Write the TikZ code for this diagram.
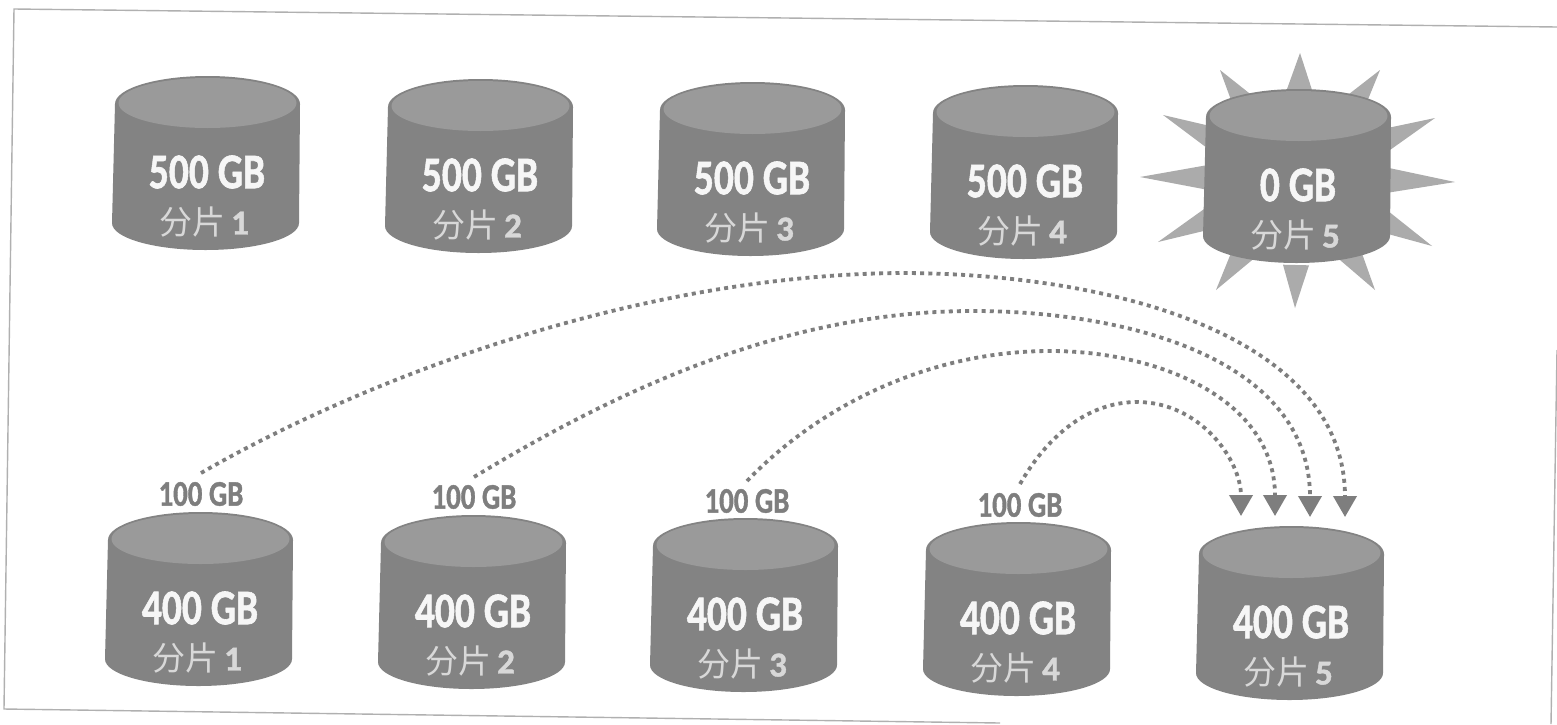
\documentclass[tikz,border=0pt]{standalone}
\usepackage{fontspec}
\setmainfont[BoldFeatures={FakeBold=1.2}]{Carlito}
\newfontfamily\cjkfont{Noto Sans CJK SC}
\usetikzlibrary{arrows.meta,calc}
\definecolor{bodygray}{HTML}{838383}
\definecolor{capgray}{HTML}{9A9A9A}
\definecolor{stargray}{HTML}{ABABAB}
\definecolor{linkgray}{HTML}{7E7E7E}
\definecolor{framegray}{HTML}{B0B0B0}
\definecolor{softwhite}{HTML}{F6F6F6}
\tikzset{
  x=1pt,y=-1pt,
  diskbody/.style={fill=bodygray,draw=none},
  diskcap/.style={fill=capgray,draw=none},
  sizetext/.style={text=softwhite,font=\fontsize{50}{50}\selectfont\bfseries,xscale=0.79,inner sep=0pt},
  sharetext/.style={text=softwhite!88!black,inner sep=0pt},
  movedtext/.style={text=linkgray,font=\fontsize{36}{36}\selectfont\bfseries,xscale=0.8,inner sep=0pt},
  movelink/.style={draw=linkgray,line width=3.8pt,dash pattern=on 4pt off 4.2pt,
    -{Triangle[length=21pt,width=23pt,fill=linkgray]}},
  spike/.style={fill=stargray,draw=none},
  frameline/.style={draw=framegray,line width=1.4pt}
}
% cx, top y, name, size text, shard number
\newcommand{\diskshape}[5]{%
  \fill[diskbody] (#1-92,#2+28) arc[start angle=180,end angle=0,x radius=92.5pt,y radius=28pt]
     -- (#1+92,#2+147) arc[start angle=0,end angle=-180,x radius=93.5pt,y radius=27pt] -- cycle;
  \fill[diskcap] (#1+0.5,#2+27) ellipse[x radius=89pt,y radius=25pt];
  \node[sizetext] (#3size) at (#1,#2+96) {#4};
  \node[sharetext] (#3share) at (#1-3,#2+146) {{\cjkfont\fontsize{33}{33}\selectfont 分片}\hspace{6pt}{\fontsize{35}{35}\selectfont\bfseries #5}};
}
\begin{document}
\begin{tikzpicture}
\useasboundingbox (0,0) rectangle (1557,724);
\fill[white] (0,0) rectangle (1557,724);
\draw[frameline] (1557,27) -- (14,9) -- (4,709) -- (1000,723);
\draw[frameline] (1557,350) -- (1551,724);
% burst
\coordinate (burst) at (1298,178);
\foreach \tx/\ty in {1300/53,1380/70,1435/118,1455/182,1432/246,1375/290,1295/308,1216/290,1158/242,1140/177,1163/115,1220/70}{
  \coordinate (tip) at (\tx,\ty);
  \fill[spike] (tip) -- ($(burst)!88pt!8.5:(tip)$) -- ($(burst)!88pt!-8.5:(tip)$) -- cycle;
}
% top row
\diskshape{207}{76}{a1}{500 GB}{1}
\diskshape{480}{79}{a2}{500 GB}{2}
\diskshape{752}{82}{a3}{500 GB}{3}
\diskshape{1025}{85}{a4}{500 GB}{4}
\diskshape{1298}{89}{a5}{0 GB}{5}
% bottom row
\diskshape{200}{512}{b1}{400 GB}{1}
\diskshape{473}{515}{b2}{400 GB}{2}
\diskshape{745}{518}{b3}{400 GB}{3}
\diskshape{1018}{522}{b4}{400 GB}{4}
\diskshape{1291}{526}{b5}{400 GB}{5}
% moved labels
\node[movedtext] (m1) at (201,494) {100 GB};
\node[movedtext] (m2) at (474,497) {100 GB};
\node[movedtext] (m3) at (747,501) {100 GB};
\node[movedtext] (m4) at (1020,505) {100 GB};
% link ends
\coordinate (s1) at ($(m1)+(0,-21)$);
\coordinate (s2) at ($(m2)+(0,-20)$);
\coordinate (s3) at ($(m3)+(0,-20)$);
\coordinate (s4) at ($(m4)+(0,-21)$);
\coordinate (t1) at (1345,517);
\coordinate (t2) at (1310,517);
\coordinate (t3) at (1275,516);
\coordinate (t4) at (1241,516);
% links
\draw[movelink] (s1) .. controls (380,370) and (650,275) .. (900,273)
   .. controls (1110,273) and (1345,335) .. (t1);
\draw[movelink] (s2) .. controls (610,395) and (780,311) .. (973,311)
   .. controls (1130,311) and (1310,360) .. (t2);
\draw[movelink] (s3) .. controls (820,405) and (930,351) .. (1050,351)
   .. controls (1160,351) and (1275,400) .. (t3);
\draw[movelink] (s4) .. controls (1045,440) and (1085,402) .. (1137,402)
   .. controls (1200,402) and (1241,460) .. (t4);
\end{tikzpicture}
\end{document}
